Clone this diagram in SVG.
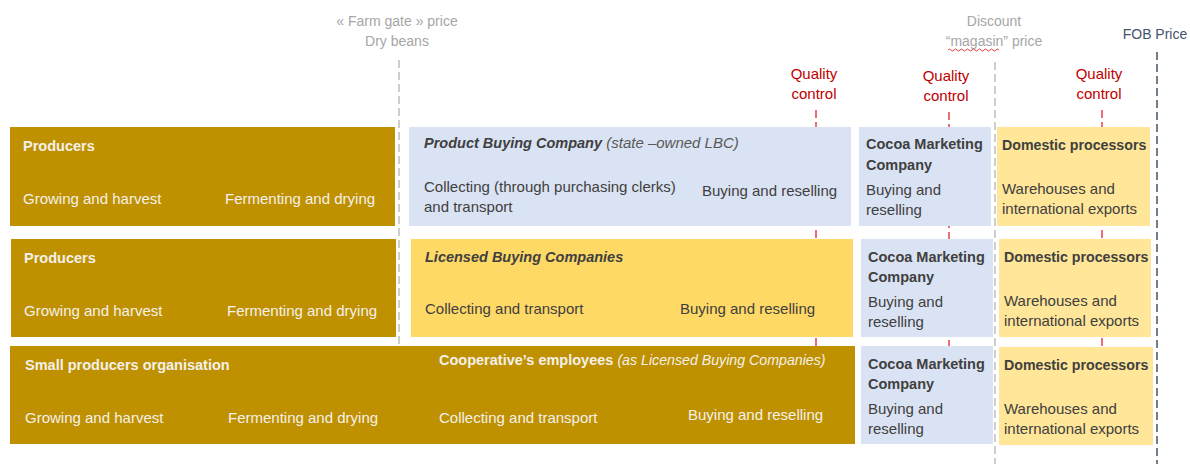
<svg xmlns="http://www.w3.org/2000/svg" width="1190" height="464" viewBox="0 0 1190 464">
<style>
text{font-family:"Liberation Sans",Arial,sans-serif;font-size:15px}
.t{font-size:14px}
.w{fill:#F4F1EA}
.d{fill:#404040}
.b{font-weight:bold;font-size:14.5px}
.b14{font-weight:bold;font-size:14.2px}
.i{font-style:italic}
.g{fill:#A6A6A6}
.r{fill:#C00000}
.gold{fill:#BF9000}
.blue{fill:#DAE3F3}
.yel{fill:#FFD966}
.lyel{fill:#FFE699}
.qc{stroke:#E0404A;stroke-width:1.5;stroke-dasharray:8 4;fill:none}
.gd{stroke:#BFBFBF;stroke-width:1.5;stroke-dasharray:8 4;fill:none}
</style>
<g id="connectors">
<line class="gd" x1="399" y1="60" x2="399" y2="356"/>
<line class="gd" x1="995" y1="62" x2="995" y2="464"/>
<line x1="1157" y1="52" x2="1157" y2="464" stroke="#44546A" stroke-width="1.5" stroke-dasharray="8 4"/>
<line class="qc" x1="816" y1="110" x2="816" y2="346"/>
<line class="qc" x1="949" y1="112" x2="949" y2="346"/>
<line class="qc" x1="1102" y1="110" x2="1102" y2="346"/>
</g>
<g id="labels">
<text class="g t" x="397" y="26" text-anchor="middle">« Farm gate » price</text>
<text class="g t" x="397" y="46" text-anchor="middle">Dry beans</text>
<text class="g t" x="994" y="26" text-anchor="middle">Discount</text>
<text class="g t" x="994" y="46" text-anchor="middle">“magasin” price</text>
<path d="M948 50 q1.5 -2 3 0 t3 0 t3 0 t3 0 t3 0 t3 0 t3 0 t3 0 t3 0 t3 0 t3 0 t3 0 t3 0 t3 0 t3 0 t3 0 t3 0" fill="none" stroke="#E04040" stroke-width="1"/>
<text class="t" x="1155" y="39" text-anchor="middle" fill="#44546A">FOB Price</text>
<text class="r" x="814" y="79" text-anchor="middle">Quality</text>
<text class="r" x="814" y="99" text-anchor="middle">control</text>
<text class="r" x="946" y="81" text-anchor="middle">Quality</text>
<text class="r" x="946" y="101" text-anchor="middle">control</text>
<text class="r" x="1099" y="79" text-anchor="middle">Quality</text>
<text class="r" x="1099" y="99" text-anchor="middle">control</text>
</g>
<g id="producers1">
<rect class="gold" x="10" y="127" width="385" height="99"/>
<text class="w b" x="23" y="151">Producers</text>
<text class="w" x="23" y="204">Growing and harvest</text>
<text class="w" x="225" y="204">Fermenting and drying</text>
</g>
<g id="pbc">
<rect class="blue" x="409" y="127" width="442" height="99"/>
<text class="d" x="424" y="148"><tspan class="b i">Product Buying Company</tspan> <tspan class="i" fill="#595959">(state –owned LBC)</tspan></text>
<text class="d" x="424" y="192">Collecting (through purchasing clerks)</text>
<text class="d" x="424" y="212">and transport</text>
<text class="d" x="702" y="196">Buying and reselling</text>
</g>
<g id="cmc1">
<rect class="blue" x="859" y="127" width="132" height="99"/>
<text class="d b" x="866" y="149">Cocoa Marketing</text>
<text class="d b" x="866" y="170">Company</text>
<text class="d" x="866" y="195">Buying and</text>
<text class="d" x="866" y="215">reselling</text>
</g>
<g id="dp1">
<rect class="lyel" x="997" y="127" width="153" height="99"/>
<text class="d b14" x="1002" y="150">Domestic processors</text>
<text class="d" x="1002" y="194">Warehouses and</text>
<text class="d" x="1002" y="214">international exports</text>
</g>
<g id="producers2">
<rect class="gold" x="11" y="239" width="385" height="98"/>
<text class="w b" x="24" y="263">Producers</text>
<text class="w" x="24" y="316">Growing and harvest</text>
<text class="w" x="227" y="316">Fermenting and drying</text>
</g>
<g id="lbc">
<rect class="yel" x="411" y="239" width="442" height="98"/>
<text class="d b i" x="425" y="262">Licensed Buying Companies</text>
<text class="d" x="425" y="314">Collecting and transport</text>
<text class="d" x="680" y="314">Buying and reselling</text>
</g>
<g id="cmc2">
<rect class="blue" x="861" y="239" width="132" height="98"/>
<text class="d b" x="868" y="262">Cocoa Marketing</text>
<text class="d b" x="868" y="282">Company</text>
<text class="d" x="868" y="307">Buying and</text>
<text class="d" x="868" y="327">reselling</text>
</g>
<g id="dp2">
<rect class="lyel" x="999" y="239" width="152" height="98"/>
<text class="d b14" x="1004" y="262">Domestic processors</text>
<text class="d" x="1004" y="306">Warehouses and</text>
<text class="d" x="1004" y="326">international exports</text>
</g>
<g id="spo">
<rect class="gold" x="10" y="346" width="845" height="98"/>
<text class="w b" x="25" y="370">Small producers organisation</text>
<text class="w" x="439" y="365" style="font-size:14.5px"><tspan class="b" style="font-size:14.5px">Cooperative’s employees</tspan> <tspan class="i" style="font-size:14.2px">(as Licensed Buying Companies)</tspan></text>
<text class="w" x="25" y="423">Growing and harvest</text>
<text class="w" x="228" y="423">Fermenting and drying</text>
<text class="w" x="439" y="423">Collecting and transport</text>
<text class="w" x="688" y="420">Buying and reselling</text>
</g>
<g id="cmc3">
<rect class="blue" x="861" y="346" width="132" height="98"/>
<text class="d b" x="868" y="369">Cocoa Marketing</text>
<text class="d b" x="868" y="389">Company</text>
<text class="d" x="868" y="414">Buying and</text>
<text class="d" x="868" y="434">reselling</text>
</g>
<g id="dp3">
<rect class="lyel" x="999" y="347" width="154" height="98"/>
<text class="d b14" x="1004" y="370">Domestic processors</text>
<text class="d" x="1004" y="414">Warehouses and</text>
<text class="d" x="1004" y="434">international exports</text>
</g>
</svg>
